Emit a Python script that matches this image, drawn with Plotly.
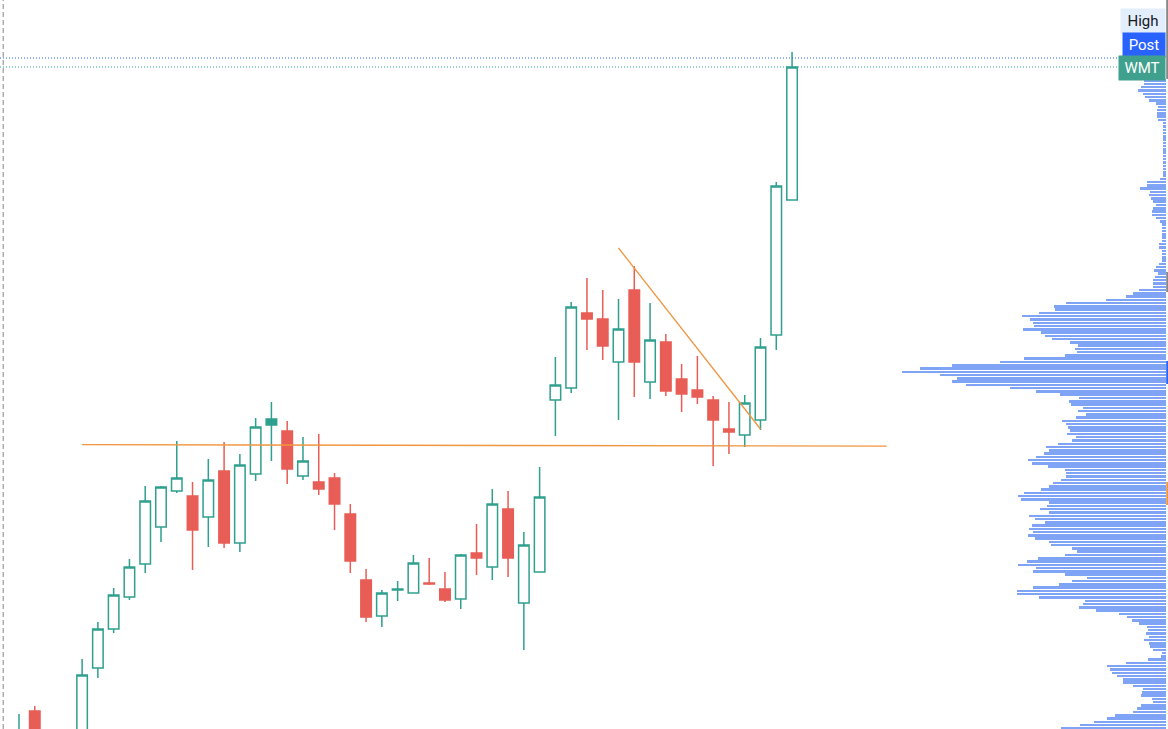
import plotly.graph_objects as go

# ---------------- candle data (price units) ----------------
candle_idx = list(range(50))
opens = [95.9, 101.8, 97.9, 96.4, 98.9, 106.1, 110.0, 113.2, 116.5, 120.2,
         123.8, 123.3, 121.2, 125.8, 118.6, 125.5, 131.0, 129.8, 125.3, 124.7,
         125.1, 121.5, 114.9, 111.3, 113.9, 113.6, 114.6, 114.0, 113.0, 117.6,
         116.2, 122.0, 112.6, 115.7, 132.9, 134.1, 141.6, 141.0, 136.7, 143.9,
         134.7, 138.7, 135.0, 133.9, 132.9, 130.0, 129.4, 130.9, 139.4, 152.9]
highs = [101.5, 102.3, 99.4, 99.7, 107.0, 110.7, 114.1, 117.0, 124.3, 124.3,
         128.8, 124.7, 127.0, 128.7, 127.5, 131.1, 132.7, 130.8, 129.2, 129.5,
         125.6, 122.5, 116.0, 113.9, 114.8, 117.4, 117.1, 115.7, 117.5, 120.5,
         124.0, 123.8, 119.7, 126.2, 137.2, 142.7, 145.1, 143.9, 143.0, 146.3,
         142.6, 139.5, 136.5, 137.3, 133.3, 132.7, 133.4, 139.1, 154.7, 167.7]
lows = [94.9, 97.4, 95.4, 95.9, 98.4, 105.1, 109.6, 112.9, 115.6, 118.7,
        123.6, 115.9, 118.2, 118.1, 117.7, 124.8, 126.8, 124.5, 124.9, 123.4,
        119.9, 115.6, 110.7, 110.2, 112.8, 113.6, 114.4, 112.7, 112.0, 115.4,
        114.9, 115.2, 107.9, 115.7, 129.3, 133.6, 137.9, 136.9, 130.9, 133.2,
        133.0, 133.3, 131.7, 132.5, 126.3, 127.5, 128.2, 129.9, 137.9, 152.9]
closes = [98.9, 98.4, 96.4, 98.4, 105.4, 110.0, 113.4, 116.2, 122.8, 124.2,
          125.1, 119.9, 124.9, 118.6, 126.4, 130.2, 130.4, 126.0, 126.8, 124.0,
          122.5, 116.8, 111.2, 113.6, 114.0, 116.6, 114.5, 112.9, 117.4, 117.1,
          122.5, 117.1, 118.4, 123.2, 134.4, 142.2, 141.0, 138.3, 140.0, 136.7,
          138.9, 133.8, 133.5, 133.2, 130.9, 129.7, 132.6, 138.2, 154.3, 166.2]

# ---------------- volume profile ----------------
profile_top = 164.83      # price of the highest row
profile_step = 0.3271     # price step between rows
profile_volume = [
    22, 22, 25, 28, 23, 21, 17, 10, 8, 9, 9, 9, 8, 3,
    3, 3, 3, 3, 3, 3, 3, 3, 3, 3, 3, 3, 3, 3, 3, 3,
    6, 19, 19, 26, 16, 17, 15, 13, 10, 13, 14, 14, 10, 6, 4, 4, 4, 4, 4, 4,
    7, 7, 4, 4, 4, 4, 7, 10, 12, 8, 11,
    13, 13, 13, 27, 33, 40, 60, 100, 112, 111, 127, 144, 136, 133, 132, 143, 125, 121, 114, 96,
    88, 91, 89, 101, 142, 166, 214, 246, 264, 226, 209, 214, 200, 156, 130, 106, 87, 97, 95, 83,
    88, 80, 90, 104, 100, 98, 96, 99, 90, 94, 108, 120, 117, 122, 130, 138, 134, 118,
    101, 100, 100, 105, 113, 117, 125, 142, 148, 145, 117, 119, 126, 117, 137, 131, 121, 134, 137, 133,
    138, 131, 117, 115, 94, 89, 101, 128, 139, 148, 130, 133, 101, 79, 94, 107, 133, 149, 149, 127,
    81, 83, 87, 70, 47, 39, 34, 27, 19, 18, 20, 17, 22, 17, 16, 13, 4, 5, 18, 40,
    59, 56, 54, 49, 43, 43, 33, 23, 24, 25, 14, 13, 25, 29, 33, 51, 59, 72, 86, 105,
]
profile_levels = [profile_top - i * profile_step for i in range(len(profile_volume))]

# ---------------- drawings ----------------
hline_x = [4, 55]
hline_y = [128.43, 128.28]
trend_x = [38, 47]
trend_y = [148.1, 130.0]
post_price = 167.1
last_price = 166.2
divider_x = -1

labels = ["High", "Post", "WMT"]
label_prices = [170.85, 168.4, 166.1]

GREEN = "#2f9f8e"
RED = "#e85d56"
ORANGE = "#f0963f"
VP_BLUE = "#80a4f5"

# classify candles: color from close vs previous close
green_i, red_i = [], []
for i in range(len(closes)):
    prev = closes[i - 1] if i > 0 else opens[i]
    (green_i if closes[i] >= prev else red_i).append(i)

def sub(arr, idx):
    return [arr[i] for i in idx]

fig = go.Figure()

# volume profile
fig.add_trace(go.Bar(
    x=profile_volume, y=profile_levels, orientation="h",
    xaxis="x2", yaxis="y",
    marker=dict(color=VP_BLUE, line=dict(width=0)),
    width=profile_step * 0.76, hoverinfo="skip", showlegend=False,
))

for idx, col in ((green_i, GREEN), (red_i, RED)):
    fig.add_trace(go.Candlestick(
        x=sub(candle_idx, idx), open=sub(opens, idx), high=sub(highs, idx),
        low=sub(lows, idx), close=sub(closes, idx),
        increasing=dict(line=dict(color=col, width=1.5), fillcolor="white"),
        decreasing=dict(line=dict(color=col, width=1.5), fillcolor=col),
        whiskerwidth=0, showlegend=False,
    ))

# horizontal & trend line
fig.add_trace(go.Scatter(x=hline_x, y=hline_y, mode="lines",
                         line=dict(color=ORANGE, width=1.3), showlegend=False, hoverinfo="skip"))
fig.add_trace(go.Scatter(x=trend_x, y=trend_y, mode="lines",
                         line=dict(color=ORANGE, width=1.3), showlegend=False, hoverinfo="skip"))

# price lines
fig.add_shape(type="line", xref="paper", x0=0, x1=1, yref="y", y0=post_price, y1=post_price,
              line=dict(color="#2962ff", width=1, dash="1px,2px"))
fig.add_shape(type="line", xref="paper", x0=0, x1=1, yref="y", y0=last_price, y1=last_price,
              line=dict(color=GREEN, width=1, dash="1px,2px"))
# session divider
fig.add_shape(type="line", xref="x", x0=divider_x, x1=divider_x, yref="paper", y0=0, y1=1,
              line=dict(color="#9a9a9a", width=1.2, dash="5px,3px"))

# right edge markers
edge_marks = [(165.0, 172.9, "#888888"), (143.7, 145.7, "#888888"),
              (134.5, 136.8, "#2962ff"), (122.4, 124.7, ORANGE)]
for y0, y1, c in edge_marks:
    fig.add_shape(type="line", xref="paper", x0=0.9993, x1=0.9993, yref="y", y0=y0, y1=y1,
                  line=dict(color=c, width=2))

label_styles = [("#e3eefc", "#131722", 38), ("#2962ff", "white", 36), ("#3fa08e", "white", 40)]
for text, p, (bg, fc, w) in zip(labels, label_prices, label_styles):
    fig.add_annotation(x=1166 / 1168, xref="paper", xanchor="right", y=p, yref="y",
                       yanchor="middle", text=text, showarrow=False, bgcolor=bg,
                       font=dict(family="Roboto", size=15, color=fc), borderpad=3,
                       width=w, align="center")

fig.update_layout(
    width=1168, height=729,
    margin=dict(l=0, r=0, t=0, b=0),
    paper_bgcolor="white", plot_bgcolor="white",
    boxgap=0.05, boxgroupgap=0.3,
    xaxis=dict(range=[-1.2044, 72.83], visible=False, rangeslider=dict(visible=False),
               showgrid=False, zeroline=False),
    xaxis2=dict(range=[1166, -2], overlaying="x", visible=False, showgrid=False, zeroline=False),
    yaxis=dict(range=[100, 172.9], visible=False, showgrid=False, zeroline=False),
    bargap=0,
)

fig.write_html(
    "out.html",
    config={"displayModeBar": False},
    post_script="document.body.style.margin='0';document.body.style.overflow='hidden';",
)
